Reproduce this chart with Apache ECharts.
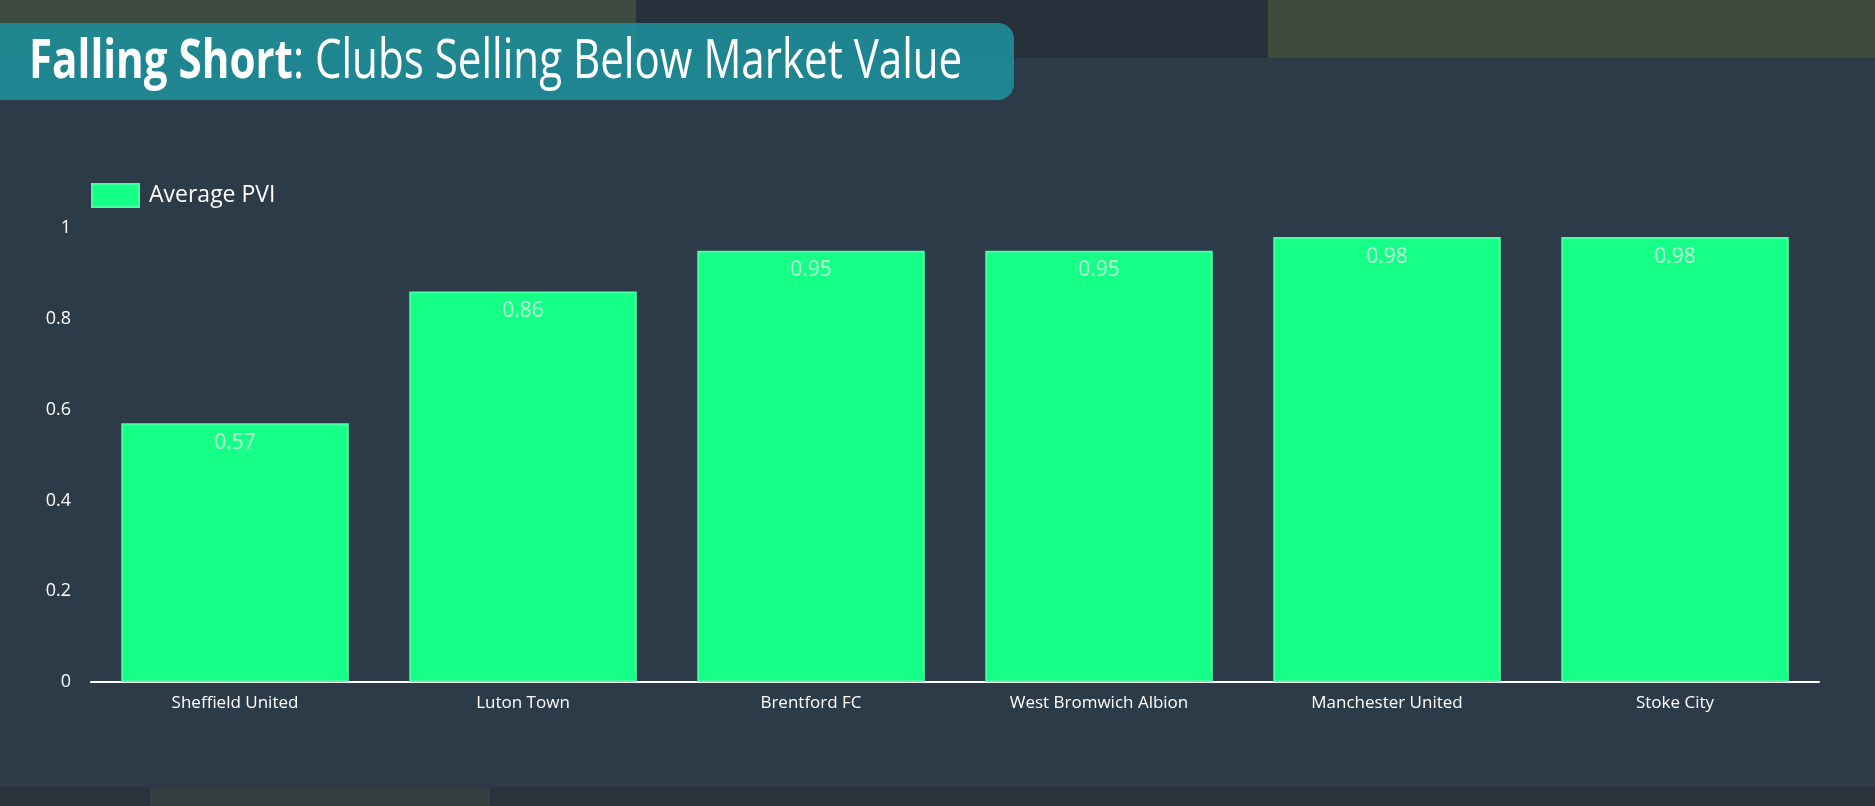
<!DOCTYPE html>
<html>
<head>
<meta charset="utf-8">
<script src="https://cdn.jsdelivr.net/npm/echarts@6/dist/echarts.min.js"></script>
<style>
	html, body { margin: 0; padding: 0; background: #2d3a48; }
	#chart { width: 1875px; height: 806px; }
</style>
</head>
<body>
<div id="chart"></div>
<script>
var clubs = ['Sheffield United', 'Luton Town', 'Brentford FC', 'West Bromwich Albion', 'Manchester United', 'Stoke City'];
var avgPvi = [0.57, 0.86, 0.95, 0.95, 0.98, 0.98];
var yTicks = [0, 0.2, 0.4, 0.6, 0.8, 1];

var myChart = echarts.init(document.getElementById('chart'));
var option = {
	backgroundColor: '#2d3a48',
	textStyle: { fontFamily: 'Open Sans' },
	graphic: [
		// photo strip at the top
		{ type: 'rect', left: 0, top: 0, z: 0, shape: { width: 636, height: 58 }, style: { fill: '#3d4a3f' } },
		{ type: 'rect', left: 636, top: 0, z: 0, shape: { width: 632, height: 58 }, style: { fill: '#27313c' } },
		{ type: 'rect', left: 1268, top: 0, z: 0, shape: { width: 607, height: 58 }, style: { fill: '#3e4a3c' } },
		// photo strip at the bottom
		{ type: 'rect', left: 0, top: 787, z: 0, shape: { width: 1875, height: 19 }, style: { fill: '#2a333c' } },
		{ type: 'rect', left: 150, top: 787, z: 0, shape: { width: 340, height: 19 }, style: { fill: '#353e3f' } },
		// title pill
		{
			type: 'rect', left: 0, top: 23, z: 5,
			shape: { width: 1014, height: 77, r: [0, 16, 16, 0] },
			style: { fill: 'rgba(29, 140, 152, 0.92)' }
		},
		{
			type: 'text', left: 29, top: 36, z: 6, scaleX: 0.78,
			style: {
				text: '{b|Falling Short}{r|: Clubs Selling Below Market Value}',
				rich: {
					b: { fontFamily: 'Open Sans', fontWeight: 'bold', fontSize: 54, fill: '#ffffff' },
					r: { fontFamily: 'Open Sans', fontWeight: 'normal', fontSize: 54, fill: '#ffffff' }
				}
			}
		}
	],
	legend: {
		left: 86,
		top: 178,
		icon: 'rect',
		itemWidth: 47,
		itemHeight: 23,
		itemGap: 10,
		textStyle: { color: '#ffffff', fontSize: 23, fontFamily: 'Open Sans', padding: [0, 0, 0, 5] },
		data: ['Average PVI']
	},
	grid: { left: 91, right: 56, top: 228, bottom: 124 },
	xAxis: {
		type: 'category',
		data: clubs,
		axisLine: { lineStyle: { color: '#ffffff', width: 2 } },
		axisTick: { show: false },
		axisLabel: { color: '#ffffff', fontSize: 17, margin: 13 }
	},
	yAxis: {
		type: 'value',
		min: yTicks[0],
		max: yTicks[yTicks.length - 1],
		interval: 0.2,
		splitLine: { show: false },
		axisLine: { show: false },
		axisTick: { show: false },
		axisLabel: { color: '#ffffff', fontSize: 18, margin: 20 }
	},
	series: [{
		name: 'Average PVI',
		type: 'bar',
		data: avgPvi,
		barCategoryGap: '21%',
		itemStyle: {
			color: '#16ff86',
			borderColor: '#45ffa3',
			borderWidth: 2
		},
		label: {
			show: true,
			position: 'insideTop',
			distance: 9,
			color: 'rgba(235, 245, 240, 0.8)',
			fontSize: 21
		}
	}]
};
myChart.setOption(option);
</script>
</body>
</html>
